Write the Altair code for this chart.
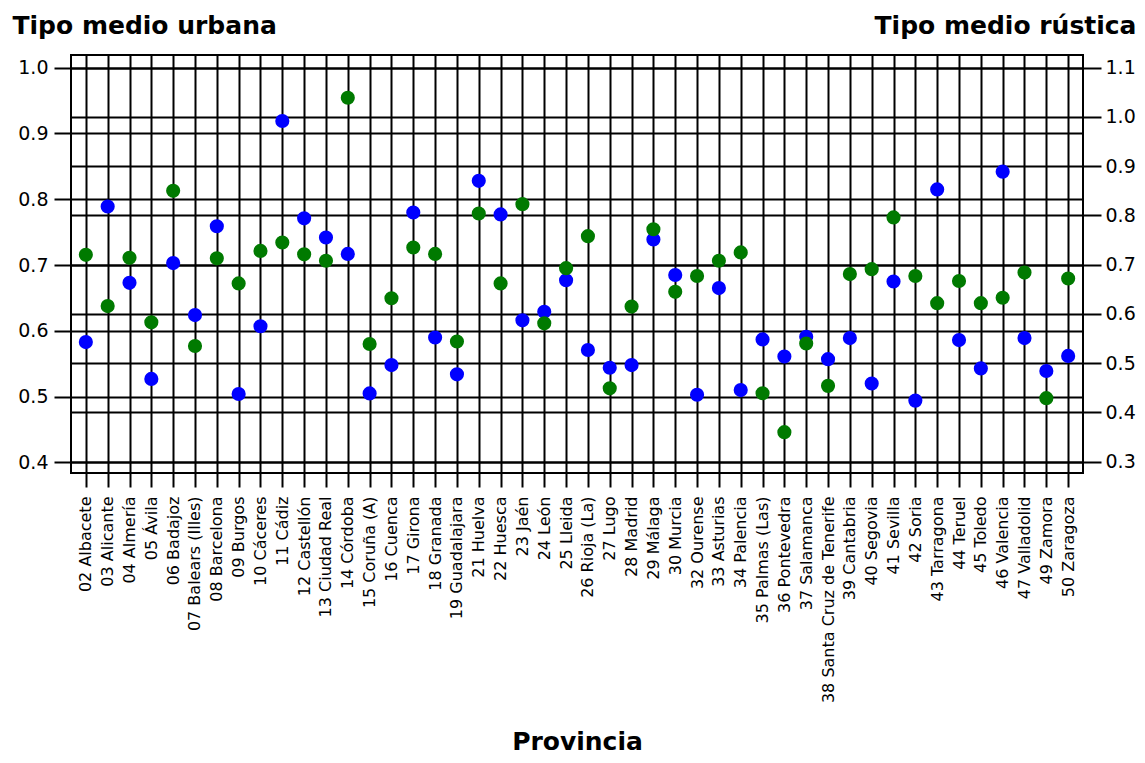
import altair as alt
import pandas as pd

provincias = [
    "02 Albacete", "03 Alicante", "04 Almería", "05 Ávila", "06 Badajoz",
    "07 Balears (Illes)", "08 Barcelona", "09 Burgos", "10 Cáceres", "11 Cádiz",
    "12 Castellón", "13 Ciudad Real", "14 Córdoba", "15 Coruña (A)", "16 Cuenca",
    "17 Girona", "18 Granada", "19 Guadalajara", "21 Huelva", "22 Huesca",
    "23 Jaén", "24 León", "25 Lleida", "26 Rioja (La)", "27 Lugo",
    "28 Madrid", "29 Málaga", "30 Murcia", "32 Ourense", "33 Asturias",
    "34 Palencia", "35 Palmas (Las)", "36 Pontevedra", "37 Salamanca",
    "38 Santa Cruz de Tenerife", "39 Cantabria", "40 Segovia", "41 Sevilla",
    "42 Soria", "43 Tarragona", "44 Teruel", "45 Toledo", "46 Valencia",
    "47 Valladolid", "49 Zamora", "50 Zaragoza",
]

tipo_urbana = [
    0.583, 0.789, 0.673, 0.527, 0.703, 0.624, 0.759, 0.504, 0.607, 0.919,
    0.771, 0.742, 0.717, 0.505, 0.548, 0.780, 0.590, 0.534, 0.828, 0.777,
    0.616, 0.629, 0.677, 0.571, 0.544, 0.548, 0.739, 0.685, 0.503, 0.665,
    0.510, 0.587, 0.561, 0.591, 0.557, 0.589, 0.520, 0.675, 0.494, 0.815,
    0.586, 0.543, 0.842, 0.589, 0.539, 0.562,
]

tipo_rustica = [
    0.720, 0.616, 0.714, 0.583, 0.850, 0.535, 0.713, 0.662, 0.728, 0.745,
    0.721, 0.708, 1.039, 0.539, 0.632, 0.735, 0.722, 0.544, 0.804, 0.662,
    0.823, 0.581, 0.693, 0.758, 0.449, 0.615, 0.772, 0.645, 0.677, 0.708,
    0.725, 0.439, 0.360, 0.540, 0.454, 0.681, 0.691, 0.796, 0.677, 0.622,
    0.667, 0.622, 0.633, 0.684, 0.429, 0.672,
]

left_ticks = [0.4, 0.5, 0.6, 0.7, 0.8, 0.9, 1.0]
right_ticks = [0.3, 0.4, 0.5, 0.6, 0.7, 0.8, 0.9, 1.0, 1.1]

df = pd.DataFrame({
    "provincia": provincias,
    "urbana": tipo_urbana,
    "rustica": tipo_rustica,
})

FONT = "DejaVu Sans"

x_enc = alt.X(
    "provincia:N",
    sort=provincias,
    scale=alt.Scale(type="point", padding=0.68),
    axis=alt.Axis(
        title="Provincia",
        titleFont=FONT, titleFontSize=25, titleFontWeight="bold", titleColor="black",
        titleAnchor="middle", titleAlign="center", titleBaseline="alphabetic",
        titleX=506, titleY=276,
        labelAngle=-90, labelFont=FONT, labelFontSize=16, labelColor="black",
        labelPadding=9, tickSize=14, tickColor="black", tickWidth=2,
        grid=True, gridColor="black", gridWidth=2, gridOpacity=1,
        domain=False, labelOverlap=False, labelLimit=0,
    ),
)

blue = alt.Chart(df).mark_circle(size=200, color="#0000ff", opacity=1).encode(
    x=x_enc,
    y=alt.Y(
        "urbana:Q",
        scale=alt.Scale(domain=[0.384, 1.0193], nice=False, zero=False),
        axis=alt.Axis(
            orient="left", values=left_ticks, format=".1f",
            title="Tipo medio urbana",
            titleFont=FONT, titleFontSize=25, titleFontWeight="bold", titleColor="black",
            titleAngle=0, titleAlign="left", titleBaseline="alphabetic",
            titleX=-59, titleY=-22,
            labelFont=FONT, labelFontSize=19, labelColor="black", labelPadding=6,
            tickSize=17, tickColor="black", tickWidth=2,
            grid=True, gridColor="black", gridWidth=2, gridOpacity=1,
            domain=False,
        ),
    ),
)

green = alt.Chart(df).mark_circle(size=200, color="#007a00", opacity=1).encode(
    x=x_enc,
    y=alt.Y(
        "rustica:Q",
        scale=alt.Scale(domain=[0.2771, 1.1258], nice=False, zero=False),
        axis=alt.Axis(
            orient="right", values=right_ticks, format=".1f",
            title="Tipo medio rústica",
            titleFont=FONT, titleFontSize=25, titleFontWeight="bold", titleColor="black",
            titleAngle=0, titleAlign="right", titleBaseline="alphabetic",
            titleX=53, titleY=-22,
            labelFont=FONT, labelFontSize=19, labelColor="black", labelPadding=4,
            tickSize=18, tickColor="black", tickWidth=2,
            grid=True, gridColor="black", gridWidth=2, gridOpacity=1,
            domain=False,
        ),
    ),
)

chart = (
    alt.layer(blue, green)
    .resolve_scale(y="independent")
    .properties(
        width=1012,
        height=418,
        autosize=alt.AutoSizeParams(type="none"),
        padding={"left": 63, "top": 47, "right": 54, "bottom": 283},
        background="white",
    )
    .configure_view(stroke="black", strokeWidth=2)
)

chart.save("out.html", embed_options={"renderer": "svg", "actions": False})
